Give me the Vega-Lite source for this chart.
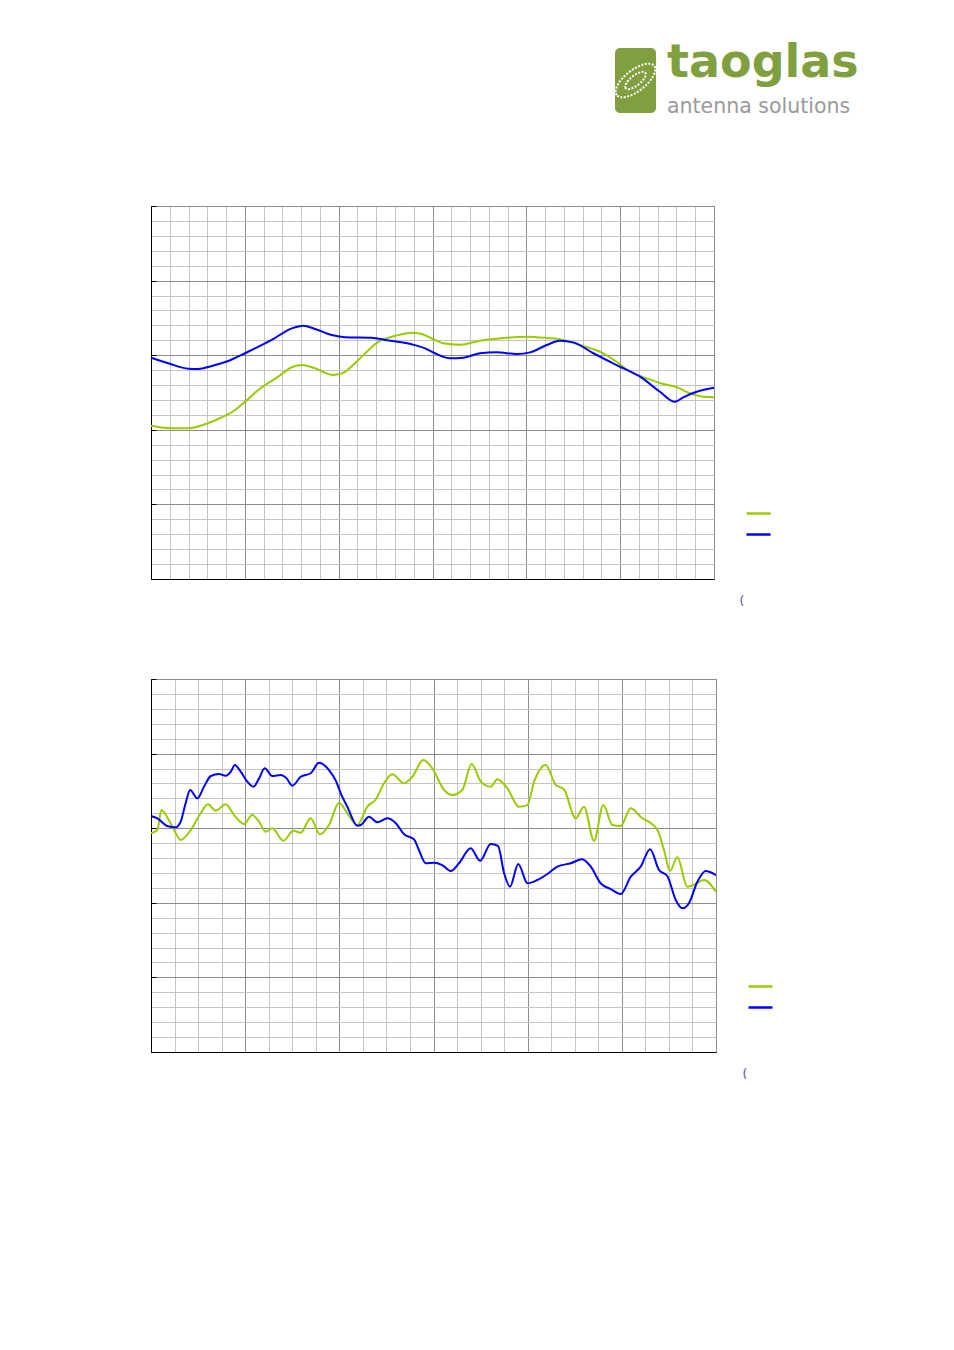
{
  "$schema": "https://vega.github.io/schema/vega-lite/v6.json",
  "padding": {"left": 146, "top": 39, "right": 0, "bottom": 0},
  "background": "white",
  "config": {"font": "DejaVu Sans", "view": {"stroke": "#8c8c8c"}},
  "bounds": "flush",
  "spacing": 158,
  "vconcat": [
    {
      "bounds": "flush",
      "spacing": 0,
      "hconcat": [
        {"width": 464, "height": 65, "data": {"values": []}, "mark": "point", "view": {"stroke": null}},
        {
          "width": 41,
          "height": 65,
          "view": {"fill": "#80a040", "stroke": null, "cornerRadius": 5},
          "title": {
            "text": "taoglas",
            "subtitle": "antenna solutions",
            "anchor": "start",
            "orient": "top",
            "frame": "group",
            "dx": 52,
            "dy": 74,
            "font": "DejaVu Sans",
            "fontSize": 46,
            "fontWeight": "bold",
            "color": "#80a040",
            "subtitleFont": "DejaVu Sans",
            "subtitleFontSize": 20.5,
            "subtitleColor": "#9a9a9a",
            "subtitlePadding": 10
          },
          "data": {"values": [{"brand": "taoglas"}]},
          "mark": {
            "type": "point",
            "shape": "M -0.749 0.585 A 0.95 0.42 -38 1 1 0.749 -0.585 A 0.95 0.42 -38 1 1 -0.749 0.585 Z M -0.394 0.308 A 0.5 0.2 -38 1 1 0.394 -0.308 A 0.5 0.2 -38 1 1 -0.394 0.308 Z",
            "size": 2500,
            "filled": false,
            "stroke": "white",
            "strokeWidth": 2,
            "strokeDash": [2, 1.5],
            "opacity": 1
          }
        }
      ]
    },
    {
      "bounds": "flush",
      "spacing": 100,
      "resolve": {"scale": {"color": "independent"}, "legend": {"color": "independent"}},
      "vconcat": [
        {
          "width": 563,
          "height": 373,
          "data": {"values": [
            {"series": "Series A", "x": 0, "y": 10.27},
            {"series": "Series A", "x": 1.10, "y": 10.10},
            {"series": "Series A", "x": 1.99, "y": 10.10},
            {"series": "Series A", "x": 2.88, "y": 10.37},
            {"series": "Series A", "x": 3.77, "y": 10.84},
            {"series": "Series A", "x": 4.48, "y": 11.33},
            {"series": "Series A", "x": 5.01, "y": 11.88},
            {"series": "Series A", "x": 5.72, "y": 12.67},
            {"series": "Series A", "x": 6.78, "y": 13.56},
            {"series": "Series A", "x": 7.50, "y": 14.19},
            {"series": "Series A", "x": 8.03, "y": 14.34},
            {"series": "Series A", "x": 8.74, "y": 14.12},
            {"series": "Series A", "x": 9.71, "y": 13.67},
            {"series": "Series A", "x": 10.34, "y": 13.89},
            {"series": "Series A", "x": 11.05, "y": 14.68},
            {"series": "Series A", "x": 12.11, "y": 15.90},
            {"series": "Series A", "x": 13.00, "y": 16.29},
            {"series": "Series A", "x": 13.89, "y": 16.51},
            {"series": "Series A", "x": 14.42, "y": 16.42},
            {"series": "Series A", "x": 15.13, "y": 16.02},
            {"series": "Series A", "x": 15.58, "y": 15.80},
            {"series": "Series A", "x": 16.47, "y": 15.70},
            {"series": "Series A", "x": 17.53, "y": 15.97},
            {"series": "Series A", "x": 18.77, "y": 16.15},
            {"series": "Series A", "x": 20.02, "y": 16.24},
            {"series": "Series A", "x": 21.09, "y": 16.15},
            {"series": "Series A", "x": 21.97, "y": 16.02},
            {"series": "Series A", "x": 22.86, "y": 15.68},
            {"series": "Series A", "x": 24.10, "y": 15.13},
            {"series": "Series A", "x": 24.81, "y": 14.56},
            {"series": "Series A", "x": 25.52, "y": 13.89},
            {"series": "Series A", "x": 26.41, "y": 13.45},
            {"series": "Series A", "x": 27.30, "y": 13.07},
            {"series": "Series A", "x": 28.01, "y": 12.85},
            {"series": "Series A", "x": 28.72, "y": 12.45},
            {"series": "Series A", "x": 29.43, "y": 12.22},
            {"series": "Series A", "x": 30, "y": 12.18},
            {"series": "Series B", "x": 0, "y": 14.83},
            {"series": "Series B", "x": 0.92, "y": 14.46},
            {"series": "Series B", "x": 1.99, "y": 14.10},
            {"series": "Series B", "x": 2.52, "y": 14.08},
            {"series": "Series B", "x": 3.24, "y": 14.28},
            {"series": "Series B", "x": 4.12, "y": 14.61},
            {"series": "Series B", "x": 5.01, "y": 15.13},
            {"series": "Series B", "x": 6.43, "y": 16.02},
            {"series": "Series B", "x": 7.50, "y": 16.80},
            {"series": "Series B", "x": 8.12, "y": 16.98},
            {"series": "Series B", "x": 8.74, "y": 16.76},
            {"series": "Series B", "x": 9.63, "y": 16.35},
            {"series": "Series B", "x": 10.34, "y": 16.20},
            {"series": "Series B", "x": 11.76, "y": 16.17},
            {"series": "Series B", "x": 12.47, "y": 16.02},
            {"series": "Series B", "x": 13.89, "y": 15.73},
            {"series": "Series B", "x": 14.60, "y": 15.46},
            {"series": "Series B", "x": 15.13, "y": 15.13},
            {"series": "Series B", "x": 15.93, "y": 14.79},
            {"series": "Series B", "x": 16.64, "y": 14.83},
            {"series": "Series B", "x": 17.53, "y": 15.13},
            {"series": "Series B", "x": 18.42, "y": 15.19},
            {"series": "Series B", "x": 19.49, "y": 15.08},
            {"series": "Series B", "x": 20.20, "y": 15.19},
            {"series": "Series B", "x": 21.09, "y": 15.68},
            {"series": "Series B", "x": 21.79, "y": 15.97},
            {"series": "Series B", "x": 22.50, "y": 15.86},
            {"series": "Series B", "x": 23.57, "y": 15.13},
            {"series": "Series B", "x": 24.81, "y": 14.34},
            {"series": "Series B", "x": 26.06, "y": 13.56},
            {"series": "Series B", "x": 27.12, "y": 12.55},
            {"series": "Series B", "x": 27.92, "y": 11.88},
            {"series": "Series B", "x": 28.36, "y": 12.18},
            {"series": "Series B", "x": 29.08, "y": 12.55},
            {"series": "Series B", "x": 30, "y": 12.82}
          ]},
          "mark": {"type": "line", "interpolate": "monotone", "strokeWidth": 2},
          "encoding": {
            "x": {
              "field": "x", "type": "quantitative",
              "scale": {"domain": [0, 30], "nice": false, "zero": false},
              "axis": {
                "values": [0,1,2,3,4,5,6,7,8,9,10,11,12,13,14,15,16,17,18,19,20,21,22,23,24,25,26,27,28,29,30],
                "grid": true,
                "gridColor": {"condition": {"test": "datum.value % 5 === 0", "value": "#8c8c8c"}, "value": "#c4c4c4"},
                "labels": false,
                "ticks": false,
                "domainColor": "#000000",
                "title": "(",
                "titleX": 588,
                "titleY": 21,
                "titleAlign": "left",
                "titleBaseline": "middle",
                "titleFontSize": 12,
                "titleFontWeight": "normal",
                "titleColor": "#4a4aa8"
              }
            },
            "y": {
              "field": "y", "type": "quantitative",
              "scale": {"domain": [0, 25], "nice": false, "zero": false},
              "axis": {
                "values": [0,1,2,3,4,5,6,7,8,9,10,11,12,13,14,15,16,17,18,19,20,21,22,23,24,25],
                "grid": true,
                "gridColor": {"condition": {"test": "datum.value % 5 === 0", "value": "#8c8c8c"}, "value": "#c4c4c4"},
                "labels": false,
                "ticks": true,
                "tickSize": -5,
                "tickColor": "#000000",
                "tickOpacity": {"condition": {"test": "datum.value % 5 === 0", "value": 1}, "value": 0},
                "domainColor": "#000000",
                "title": null
              }
            },
            "color": {
              "field": "series", "type": "nominal",
              "scale": {"domain": ["Series A", "Series B"], "range": ["#99cc00", "#0000ff"]},
              "legend": {
                "orient": "none", "legendX": 594, "legendY": 294, "title": null,
                "symbolType": "stroke", "symbolSize": 576, "symbolStrokeWidth": 2.5,
                "labelExpr": "''", "rowPadding": 2, "padding": 0
              }
            }
          }
        },
        {
          "width": 565,
          "height": 373,
          "data": {"values": [
            {"series": "Series A", "x": 0, "y": 14.66},
            {"series": "Series A", "x": 0.27, "y": 14.88},
            {"series": "Series A", "x": 0.44, "y": 16.22},
            {"series": "Series A", "x": 0.69, "y": 15.73},
            {"series": "Series A", "x": 0.98, "y": 14.88},
            {"series": "Series A", "x": 1.26, "y": 14.21},
            {"series": "Series A", "x": 1.69, "y": 14.88},
            {"series": "Series A", "x": 2.11, "y": 16.00},
            {"series": "Series A", "x": 2.42, "y": 16.60},
            {"series": "Series A", "x": 2.75, "y": 16.17},
            {"series": "Series A", "x": 3.17, "y": 16.60},
            {"series": "Series A", "x": 3.53, "y": 15.88},
            {"series": "Series A", "x": 3.95, "y": 15.28},
            {"series": "Series A", "x": 4.30, "y": 15.88},
            {"series": "Series A", "x": 4.59, "y": 15.44},
            {"series": "Series A", "x": 4.87, "y": 14.77},
            {"series": "Series A", "x": 5.15, "y": 14.99},
            {"series": "Series A", "x": 5.62, "y": 14.16},
            {"series": "Series A", "x": 6.05, "y": 14.83},
            {"series": "Series A", "x": 6.36, "y": 14.70},
            {"series": "Series A", "x": 6.78, "y": 15.66},
            {"series": "Series A", "x": 7.18, "y": 14.59},
            {"series": "Series A", "x": 7.56, "y": 15.21},
            {"series": "Series A", "x": 7.99, "y": 16.71},
            {"series": "Series A", "x": 8.34, "y": 16.00},
            {"series": "Series A", "x": 8.76, "y": 15.21},
            {"series": "Series A", "x": 9.19, "y": 16.44},
            {"series": "Series A", "x": 9.55, "y": 16.94},
            {"series": "Series A", "x": 9.90, "y": 18.01},
            {"series": "Series A", "x": 10.25, "y": 18.61},
            {"series": "Series A", "x": 10.75, "y": 18.01},
            {"series": "Series A", "x": 11.10, "y": 18.45},
            {"series": "Series A", "x": 11.57, "y": 19.57},
            {"series": "Series A", "x": 11.95, "y": 19.01},
            {"series": "Series A", "x": 12.45, "y": 17.56},
            {"series": "Series A", "x": 12.80, "y": 17.23},
            {"series": "Series A", "x": 13.22, "y": 17.56},
            {"series": "Series A", "x": 13.62, "y": 19.30},
            {"series": "Series A", "x": 14.01, "y": 18.12},
            {"series": "Series A", "x": 14.43, "y": 17.78},
            {"series": "Series A", "x": 14.71, "y": 18.28},
            {"series": "Series A", "x": 15.14, "y": 17.67},
            {"series": "Series A", "x": 15.63, "y": 16.44},
            {"series": "Series A", "x": 15.99, "y": 16.55},
            {"series": "Series A", "x": 16.27, "y": 18.10},
            {"series": "Series A", "x": 16.77, "y": 19.24},
            {"series": "Series A", "x": 17.19, "y": 17.90},
            {"series": "Series A", "x": 17.54, "y": 17.61},
            {"series": "Series A", "x": 18.04, "y": 15.66},
            {"series": "Series A", "x": 18.39, "y": 16.44},
            {"series": "Series A", "x": 18.82, "y": 14.16},
            {"series": "Series A", "x": 19.21, "y": 16.55},
            {"series": "Series A", "x": 19.60, "y": 15.21},
            {"series": "Series A", "x": 19.95, "y": 15.15},
            {"series": "Series A", "x": 20.38, "y": 16.33},
            {"series": "Series A", "x": 20.80, "y": 15.77},
            {"series": "Series A", "x": 21.51, "y": 14.88},
            {"series": "Series A", "x": 21.79, "y": 13.54},
            {"series": "Series A", "x": 22.05, "y": 12.15},
            {"series": "Series A", "x": 22.36, "y": 13.05},
            {"series": "Series A", "x": 22.78, "y": 11.08},
            {"series": "Series A", "x": 23.14, "y": 11.26},
            {"series": "Series A", "x": 23.49, "y": 11.53},
            {"series": "Series A", "x": 24, "y": 10.74},
            {"series": "Series B", "x": 0, "y": 15.82},
            {"series": "Series B", "x": 0.27, "y": 15.66},
            {"series": "Series B", "x": 0.69, "y": 15.15},
            {"series": "Series B", "x": 1.05, "y": 15.06},
            {"series": "Series B", "x": 1.26, "y": 15.44},
            {"series": "Series B", "x": 1.47, "y": 16.67},
            {"series": "Series B", "x": 1.66, "y": 17.56},
            {"series": "Series B", "x": 1.97, "y": 17.00},
            {"series": "Series B", "x": 2.25, "y": 17.78},
            {"series": "Series B", "x": 2.54, "y": 18.50},
            {"series": "Series B", "x": 2.89, "y": 18.63},
            {"series": "Series B", "x": 3.17, "y": 18.52},
            {"series": "Series B", "x": 3.39, "y": 18.79},
            {"series": "Series B", "x": 3.56, "y": 19.24},
            {"series": "Series B", "x": 3.81, "y": 18.79},
            {"series": "Series B", "x": 4.09, "y": 18.12},
            {"series": "Series B", "x": 4.35, "y": 17.78},
            {"series": "Series B", "x": 4.59, "y": 18.34},
            {"series": "Series B", "x": 4.83, "y": 19.01},
            {"series": "Series B", "x": 5.15, "y": 18.50},
            {"series": "Series B", "x": 5.51, "y": 18.57},
            {"series": "Series B", "x": 5.76, "y": 18.34},
            {"series": "Series B", "x": 6.00, "y": 17.85},
            {"series": "Series B", "x": 6.36, "y": 18.45},
            {"series": "Series B", "x": 6.78, "y": 18.68},
            {"series": "Series B", "x": 7.14, "y": 19.39},
            {"series": "Series B", "x": 7.56, "y": 18.90},
            {"series": "Series B", "x": 7.86, "y": 18.16},
            {"series": "Series B", "x": 8.06, "y": 17.34},
            {"series": "Series B", "x": 8.34, "y": 16.44},
            {"series": "Series B", "x": 8.76, "y": 15.17},
            {"series": "Series B", "x": 8.91, "y": 15.21},
            {"series": "Series B", "x": 9.26, "y": 15.77},
            {"series": "Series B", "x": 9.61, "y": 15.40},
            {"series": "Series B", "x": 10.04, "y": 15.66},
            {"series": "Series B", "x": 10.40, "y": 15.33},
            {"series": "Series B", "x": 10.75, "y": 14.59},
            {"series": "Series B", "x": 11.17, "y": 14.26},
            {"series": "Series B", "x": 11.38, "y": 13.54},
            {"series": "Series B", "x": 11.67, "y": 12.65},
            {"series": "Series B", "x": 12.02, "y": 12.69},
            {"series": "Series B", "x": 12.37, "y": 12.53},
            {"series": "Series B", "x": 12.73, "y": 12.13},
            {"series": "Series B", "x": 13.08, "y": 12.65},
            {"series": "Series B", "x": 13.58, "y": 13.65},
            {"series": "Series B", "x": 13.98, "y": 12.82},
            {"series": "Series B", "x": 14.43, "y": 13.94},
            {"series": "Series B", "x": 14.74, "y": 13.81},
            {"series": "Series B", "x": 15.00, "y": 11.98},
            {"series": "Series B", "x": 15.25, "y": 11.08},
            {"series": "Series B", "x": 15.60, "y": 12.60},
            {"series": "Series B", "x": 15.99, "y": 11.31},
            {"series": "Series B", "x": 16.41, "y": 11.53},
            {"series": "Series B", "x": 16.84, "y": 11.93},
            {"series": "Series B", "x": 17.26, "y": 12.42},
            {"series": "Series B", "x": 17.83, "y": 12.65},
            {"series": "Series B", "x": 18.32, "y": 12.92},
            {"series": "Series B", "x": 18.68, "y": 12.42},
            {"series": "Series B", "x": 19.10, "y": 11.31},
            {"series": "Series B", "x": 19.53, "y": 10.92},
            {"series": "Series B", "x": 19.95, "y": 10.59},
            {"series": "Series B", "x": 20.38, "y": 11.75},
            {"series": "Series B", "x": 20.80, "y": 12.42},
            {"series": "Series B", "x": 21.20, "y": 13.59},
            {"series": "Series B", "x": 21.58, "y": 12.20},
            {"series": "Series B", "x": 21.93, "y": 11.80},
            {"series": "Series B", "x": 22.29, "y": 10.19},
            {"series": "Series B", "x": 22.57, "y": 9.63},
            {"series": "Series B", "x": 22.85, "y": 9.97},
            {"series": "Series B", "x": 23.21, "y": 11.41},
            {"series": "Series B", "x": 23.56, "y": 12.13},
            {"series": "Series B", "x": 24, "y": 11.86}
          ]},
          "mark": {"type": "line", "interpolate": "monotone", "strokeWidth": 2},
          "encoding": {
            "x": {
              "field": "x", "type": "quantitative",
              "scale": {"domain": [0, 24], "nice": false, "zero": false},
              "axis": {
                "values": [0,1,2,3,4,5,6,7,8,9,10,11,12,13,14,15,16,17,18,19,20,21,22,23,24],
                "grid": true,
                "gridColor": {"condition": {"test": "datum.value % 4 === 0", "value": "#8c8c8c"}, "value": "#c4c4c4"},
                "labels": false,
                "ticks": false,
                "domainColor": "#000000",
                "title": "(",
                "titleX": 591,
                "titleY": 21,
                "titleAlign": "left",
                "titleBaseline": "middle",
                "titleFontSize": 12,
                "titleFontWeight": "normal",
                "titleColor": "#4a4aa8"
              }
            },
            "y": {
              "field": "y", "type": "quantitative",
              "scale": {"domain": [0, 25], "nice": false, "zero": false},
              "axis": {
                "values": [0,1,2,3,4,5,6,7,8,9,10,11,12,13,14,15,16,17,18,19,20,21,22,23,24,25],
                "grid": true,
                "gridColor": {"condition": {"test": "datum.value % 5 === 0", "value": "#8c8c8c"}, "value": "#c4c4c4"},
                "labels": false,
                "ticks": true,
                "tickSize": -5,
                "tickColor": "#000000",
                "tickOpacity": {"condition": {"test": "datum.value % 5 === 0", "value": 1}, "value": 0},
                "domainColor": "#000000",
                "title": null
              }
            },
            "color": {
              "field": "series", "type": "nominal",
              "scale": {"domain": ["Series A", "Series B"], "range": ["#99cc00", "#0000ff"]},
              "legend": {
                "orient": "none", "legendX": 596, "legendY": 294, "title": null,
                "symbolType": "stroke", "symbolSize": 576, "symbolStrokeWidth": 2.5,
                "labelExpr": "''", "rowPadding": 2, "padding": 0
              }
            }
          }
        }
      ]
    }
  ]
}
